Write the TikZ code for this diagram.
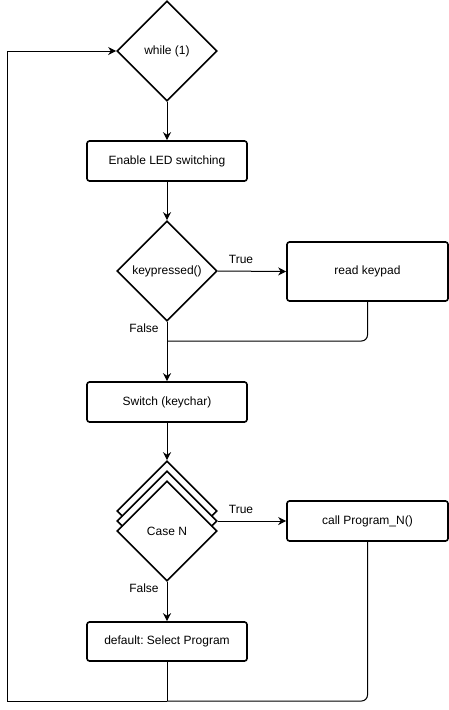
\documentclass[tikz,border=0pt]{standalone}
\usepackage{fontspec}
\setmainfont{Liberation Sans}
\usetikzlibrary{shapes.geometric,arrows.meta}
\frenchspacing
\begin{document}
\begin{tikzpicture}[x=1pt,y=-1pt,
  font=\fontsize{12pt}{14pt}\selectfont,
  box/.style={draw, line width=1.6pt, rounded corners=2.5pt, inner sep=0pt, anchor=center},
  dec/.style={draw, diamond, line width=1.6pt, inner sep=0pt, minimum width=100pt, minimum height=100pt, aspect=1, fill=white},
  conn/.style={line width=1pt, -{Stealth[length=8pt,width=8pt,inset=2.5pt]}},
  line/.style={line width=1pt},
  lbl/.style={inner sep=0pt}]
\useasboundingbox (0,0) rectangle (449,710);
\node[dec] (while) at (167,51) {while (1)};
\node[box, minimum width=160pt, minimum height=40pt] (led) at (167,161) {Enable LED switching};
\node[dec] (kp) at (167,271) {keypressed()};
\node[box, minimum width=161pt, minimum height=59pt] (read) at (367.5,271.5) {read keypad};
\node[box, minimum width=160pt, minimum height=40pt] (sw) at (167,402) {Switch (keychar)};
\node[dec] (caseC) at (167,511) {};
\node[dec] (caseB) at (167,521) {};
\node[dec] (caseN) at (167,531) {Case N};
\node[box, minimum width=161pt, minimum height=40pt] (call) at (367.5,521) {call Program\_N()};
\node[box, minimum width=160pt, minimum height=39pt] (def) at (167,641.5) {default: Select Program};
\coordinate (m1) at (167,341);
\coordinate (m2) at (167,701);
\coordinate (c1) at (7,701);
\node[lbl] (t1) at (241,259) {True};
\node[lbl] (f1) at (144,328) {False};
\node[lbl] (t2) at (241,509) {True};
\node[lbl] (f2) at (144,588) {False};
\draw[conn] (while.south) -- (led.north);
\draw[conn] (led.south) -- (kp.north);
\draw[conn] (kp.east) -- (read.west);
\draw[conn] (kp.south) -- (sw.north);
\draw[line, rounded corners=6pt] (read.south) |- (m1);
\draw[conn] (sw.south) -- (caseC.north);
\draw[conn] (caseB.east) -- (call.west);
\draw[conn] (caseN.south) -- (def.north);
\draw[line] (def.south) -- (m2);
\draw[line, rounded corners=6pt] (call.south) |- (m2);
\draw[conn] (m2) -- (c1) |- (while.west);
\end{tikzpicture}
\end{document}
